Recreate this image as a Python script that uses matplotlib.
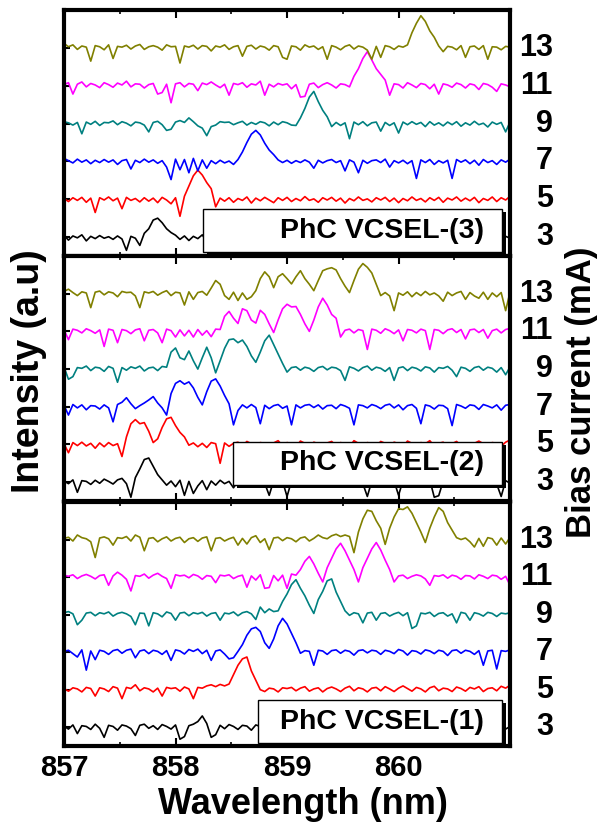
import numpy as np
import matplotlib
matplotlib.use('Agg')
import matplotlib.pyplot as plt
from matplotlib.patches import Rectangle
from matplotlib.ticker import MultipleLocator
from matplotlib.transforms import blended_transform_factory

plt.rcParams['font.family'] = ['Liberation Sans', 'DejaVu Sans']
plt.rcParams['font.weight'] = 'bold'

# wavelength grid of the recorded spectra (nm)
lam0, dlam = 857.0, 0.04

currents = [3, 5, 7, 9, 11, 13]          # bias current (mA), bottom to top
colors = ['black', 'red', 'blue', '#008080', 'magenta', '#808000']
devices = ['PhC VCSEL-(3)', 'PhC VCSEL-(2)', 'PhC VCSEL-(1)']

# spectra in 1/100 a.u. above the baseline of each trace
# --- PhC VCSEL-(3)
v3_03 = [5, -8, 3, -2, 6, -10, 2, -4, 4, -3,
         1, -6, 3, -5, -35, 2, -3, -22, 10, 22,
         45, 50, 38, 22, 12, 5, -6, 3, -9, 2,
         -4, 6, -12, 3, -2, 5, -8, 2, -5, 4,
         -3, 6, -10, 2, -4, 5, -7, 1, -3, 4,
         -6, 3, -2, 5, -9, 2, -4, 6, -3, 1,
         -5, 4, -8, 2, -3, 5, -6, 3, -2, 4,
         -7, 2, -4, 6, -3, 1, -5, 3, -9, 2,
         -3, 5, -6, 2, -4, 4, -8, 3, -2, 5,
         -5, 2, -3, 6, -7, 1, -4, 3, -6, 2, -3]
v3_05 = [2, -6, 4, -3, 5, -8, 3, -35, 4, -2,
         6, -4, 3, -25, 5, -3, 2, -7, 4, -5,
         3, -9, 5, -2, -12, 4, -45, 8, 35, 62,
         77, 64, 44, 28, -20, 3, -5, 4, -8, 2,
         -3, 6, -10, 3, -4, 5, -2, -9, 4, -3,
         5, -6, 2, -4, 7, -3, 1, -8, 4, -2,
         5, -5, 3, -10, 2, -4, 6, -3, 1, -7,
         4, -2, 5, -6, 3, -9, 2, -4, 6, -3,
         2, -7, 4, -3, 5, -8, 3, -2, 6, -5,
         3, -4, 5, -9, 2, -3, 6, -6, 4, -2, 8]
v3_07 = [8, 2, -4, 6, -2, 4, -6, 3, -3, 5,
         -2, 4, -8, 2, 5, -20, 3, -3, 6, -2,
         4, -5, 2, -15, -48, 6, -22, 5, -30, 8,
         -25, 4, -18, 2, -6, 3, -4, 1, -8, 5,
         25, 50, 72, 82, 70, 48, 30, 18, 4, -3,
         3, -5, 2, -3, 4, -2, -18, 3, -4, 2,
         5, -3, 2, -25, 4, -2, -30, 3, -5, 2,
         4, -3, 6, -15, 2, -4, 3, -6, 2, -45,
         4, -3, 5, -8, 2, -4, 3, -45, 5, -2,
         4, -6, 3, -10, 5, -3, 2, -8, 4, -2, 6]
v3_09 = [5, 2, -4, 3, -27, 4, -2, 6, -5, 3,
         2, 7, -3, 5, 1, -6, 4, 2, -4, -22,
         3, 6, -3, -18, -15, 4, 8, 3, 15, 5,
         -6, -12, -32, -8, -4, 5, 3, 4, -3, 2,
         6, -4, 3, -2, 5, 2, -6, 4, -3, 5,
         2, -4, -5, 15, 40, 70, 85, 58, 35, 18,
         -8, 3, -5, 2, -40, 4, -3, 5, -6, 2,
         4, -20, 3, -5, 2, -25, 4, -3, 5, -2,
         3, -8, 5, -4, 2, -6, 4, -3, 5, -7,
         2, -4, 6, -3, 1, -9, 4, -2, 3, -22, 5]
v3_11 = [3, 8, -22, 4, 10, -3, 6, 2, -5, 8,
         3, -4, 7, 2, 12, -3, 5, 4, -6, 3,
         6, -22, -18, 4, -45, 5, 8, -3, 6, 4,
         -13, 7, 3, 10, 2, -5, 4, -25, 6, 3,
         8, -4, 5, 2, 12, -25, 4, -3, 6, 2,
         5, -8, 3, -30, -28, 4, 7, -5, 3, 8,
         2, -6, 5, 3, -3, 25, 45, 72, 90, 68,
         45, 30, 15, -25, 5, 3, -6, 8, 2, -5,
         6, 3, -8, 4, -22, 5, 2, -4, 7, 3,
         -6, 5, 2, -10, 6, 3, -4, -15, 5, 2, -3]
v3_13 = [12, 3, 8, -4, 5, 2, -35, 6, 3, -5,
         8, -28, 4, 2, 7, -3, 5, 9, -4, 3,
         6, 2, -6, 8, 3, 4, -40, 5, 2, 7,
         -3, 6, 4, -8, 5, 2, 8, -4, 3, 6,
         -22, 4, 7, -3, 5, 2, -6, 6, 3, -25,
         -30, 5, 3, -6, 8, 2, 5, -4, 3, -30,
         6, 2, -5, 4, 8, -3, 5, 2, -6, -30,
         4, -25, 6, 3, -4, 5, 2, 8, 40, 65,
         85, 70, 45, 28, 5, -10, 4, 2, -5, 6,
         -25, 3, 5, -4, 6, -30, 3, 2, -5, 4, 2]

# --- PhC VCSEL-(2)
v2_03 = [3, -4, 6, -27, 4, 2, -6, 5, -3, 8,
         2, -5, 6, 10, -4, -40, 12, 35, 60, 64,
         42, 20, 6, -8, 3, -12, 5, -35, 2, -30,
         -10, 4, -20, 3, -8, 5, -4, 2, -15, 3,
         -6, 4, -10, 2, 5, -3, -35, 4, -6, 2,
         -38, 3, -5, 4, -8, 2, 5, -6, 3, -4,
         2, -9, 4, -3, 6, -5, 2, -4, -38, 3,
         -6, 4, 2, -8, 3, -35, 5, -4, 2, -6,
         4, -3, 6, -40, -36, 3, -5, 2, 4, -8,
         3, -4, 5, -2, 6, -9, 2, -5, -38, 4, -3]
v2_05 = [2, -22, 5, -3, 6, -4, 3, -10, 4, -6,
         5, -3, 2, -32, 20, 55, 66, 55, 58, 35,
         5, 15, 45, 68, 72, 50, 32, 20, -2, 4,
         -6, 3, -8, 5, 2, -50, 4, -5, 3, 6,
         -4, 8, 2, -6, 5, 3, -8, 4, 10, -3,
         5, 2, -6, 9, 3, -4, 6, 2, -5, 4,
         8, -3, 5, 2, -6, 10, 3, -4, 5, 2,
         -5, 8, 3, -4, 6, 2, -6, 9, 3, -3,
         5, 2, 10, -4, 3, 6, -5, 2, 8, -3,
         4, -6, 3, 9, 2, -4, 5, 3, -5, 6, 12]
v2_07 = [4, -22, 6, -3, 5, -8, 3, 2, -6, 5,
         -3, -40, 6, 12, 24, 8, -5, 3, 10, 18,
         27, 10, -3, -22, 35, 62, 69, 60, 66, 50,
         25, 5, 40, 68, 74, 55, 30, 8, -48, -10,
         5, -3, 6, -2, -45, 4, -5, 3, 6, -4,
         2, -48, 5, -3, 4, 6, -2, 5, -6, 3,
         4, -5, 6, 2, -4, -48, 5, 3, -3, 6,
         2, -5, 4, 7, -3, 5, -8, 3, 6, -4,
         -45, 5, 2, -6, 4, 3, -5, -50, 6, 2,
         -4, 5, 3, -7, 6, 2, -3, 5, -9, 4, 6]
v2_09 = [6, -27, -20, 4, 2, 8, -4, 5, 3, -6,
         7, 2, -35, 4, -3, 6, 2, 8, -5, 3,
         5, -4, 7, 5, 45, 56, 30, 25, 48, 22,
         0, 30, 58, 30, -10, 22, 55, 78, 80, 70,
         77, 60, 35, 18, 45, 75, 90, 65, 40, 15,
         -8, 4, 6, -3, 5, 2, -6, 4, 7, -2,
         5, 3, -4, -30, 6, 2, -5, 4, 8, -3,
         5, 2, -6, 4, -30, 3, 6, -4, 5, 2,
         -5, 6, 3, -8, 4, 2, 7, -3, -20, 5,
         2, -6, 4, 7, -3, 5, 2, -8, 4, -15, 6]
v2_11 = [5, -22, 6, 3, -4, 7, 2, -5, 4, -40,
         6, 3, -30, 5, 2, -6, 4, 7, -25, 3,
         5, -4, -30, 6, 2, -15, 4, -12, 3, -15,
         5, -10, 2, -14, 6, 5, 40, 53, 35, 21,
         60, 55, 30, 22, 56, 45, 20, -3, 30, 60,
         72, 65, 66, 45, 20, 0, 30, 65, 88, 70,
         45, 35, -15, 3, 6, -4, 5, 2, -48, 6,
         3, -5, 7, 2, -6, 4, -25, 5, 3, -4,
         6, 2, -48, 5, 3, -6, 4, 7, -3, 5,
         -20, 4, 6, -3, 5, -18, 2, 6, -4, 5, 8]
v2_13 = [6, 12, 3, -5, 5, 2, -37, 4, 7, -3,
         5, 2, -8, 6, 3, 4, -6, -37, 5, 2,
         6, -4, 3, 8, -5, 4, 2, -30, 5, -15,
         3, 6, -4, 15, 35, 25, -5, -15, 4, -18,
         2, -15, -8, 8, 40, 58, 45, 16, 45, 53,
         40, 26, 45, 61, 40, 25, 8, 35, 61, 66,
         69, 63, 40, 20, 3, 35, 65, 80, 70, 55,
         25, -5, 3, -6, -45, 2, -4, 5, -8, 3,
         -5, 6, -3, 2, -6, -20, 4, -5, 2, 6,
         -15, 3, -6, -12, 4, -15, 2, -8, 3, -45, 5]

# --- PhC VCSEL-(1)
v1_03 = [3, -5, 6, -17, 4, 2, -6, 8, -3, -27,
         5, 2, -8, 6, 3, -4, -22, 5, 8, -3,
         4, -6, 7, 2, -5, 6, -32, -25, 4, 8,
         15, 30, 10, -27, -20, 5, -4, 7, 2, -6,
         5, 3, -8, 6, 2, -4, 5, -7, 3, 6,
         -3, 5, 2, -9, 4, 6, -2, 3, -6, 5,
         2, -5, 7, 3, -4, 5, 2, -8, 4, 6,
         -3, 5, -6, 2, 4, -7, 3, 5, -2, 6,
         -4, 3, 7, -5, 2, 4, -8, 5, 3, -2,
         6, -4, 2, 5, -6, 3, 7, -3, 4, -5, 2]
v1_05 = [3, -4, 5, 2, -6, 6, 3, -17, 5, 2,
         -5, 8, 4, -24, 6, 3, 13, -3, 5, 2,
         -6, 4, -17, 6, 3, 5, -4, 7, 2, -24,
         6, 4, 10, 13, 8, 14, 10, 15, 40, 65,
         82, 87, 50, 25, 0, -5, 4, 2, -6, 5,
         3, 6, -3, 4, 8, -4, 2, 5, -6, 3,
         7, 2, -5, 4, 9, -3, 5, 2, -6, 4,
         6, -3, 8, 2, -5, 4, 10, 3, -4, 6,
         2, -6, 5, 9, -3, 4, 2, -5, 7, 3,
         -4, 6, 2, 8, -5, 3, 5, -3, 9, 4, 12]
v1_07 = [2, 5, -4, -13, 6, -48, 3, -20, 5, 2,
         -6, 4, 7, -3, 5, 8, -15, 3, 6, -4,
         5, 2, -6, 4, -22, 6, 3, -5, 7, 2,
         8, -4, 5, -22, 3, 6, -5, -18, -15, 2,
         20, 45, 62, 66, 55, 25, 10, 35, 70, 90,
         75, 50, 25, -3, 4, 2, -35, 5, 3, -6,
         4, 6, -3, 5, 2, -8, 4, 6, -2, 5,
         3, -6, 5, 2, -4, 7, 3, -8, 4, 2,
         -5, 6, 3, -4, 5, 2, -9, 4, 6, -3,
         5, 2, -6, 4, -35, 3, 5, -45, 4, 2, 6]
v1_09 = [5, 8, 2, -27, -15, 4, 6, -3, 5, 2,
         7, -4, 3, 6, 2, -5, -27, 4, 3, -30,
         5, 2, -6, 7, 3, -15, 4, 6, -3, 5,
         2, 6, -4, 3, 5, -15, 4, 2, 7, -3,
         5, 8, 2, -13, 20, 5, 15, 8, 10, 35,
         55, 80, 93, 70, 50, 25, 3, 40, 62, 90,
         95, 60, 35, 10, -2, 5, 2, -22, 4, 6,
         -15, 3, 5, -4, 2, 6, -3, 5, -37, -30,
         4, 2, 6, -5, 3, 5, -4, 2, -22, 6,
         3, -15, 5, 2, -4, 6, 3, -5, 4, 2, 5]
v1_11 = [5, 2, 6, -4, 3, 7, 2, -5, 4, 6,
         -22, 3, 13, 5, -6, -37, 4, 2, 8, -3,
         5, 10, 2, -4, -30, 6, 3, 5, -2, 7,
         3, -6, 4, 2, -15, 5, 3, 6, -4, 2,
         5, -27, 3, -8, 6, -30, -28, 4, -10, 5,
         -30, 8, 5, 20, 42, 55, 35, 10, -13, 25,
         50, 75, 90, 70, 45, 20, -13, 25, 50, 75,
         92, 72, 45, 20, -13, 3, 5, -4, 2, 6,
         3, -5, -22, 4, 2, 6, -3, 5, 2, -6,
         4, 3, -5, 6, 2, -4, 5, 3, -6, 2, -22]
v1_13 = [3, 6, -4, 12, 5, 2, -6, -48, 4, 7,
         2, -15, 5, 3, 8, -4, 12, 6, -30, 3,
         5, -6, 2, 7, -4, 3, 6, -8, 2, 5,
         -5, 4, 7, -30, 3, 5, -4, 2, 6, -15,
         3, -12, 5, 10, -8, 2, -27, 4, 6, -3,
         5, 2, -6, 4, 7, -4, 3, 12, 5, 2,
         10, 14, 8, 12, 8, -35, 20, 55, 78, 75,
         50, 30, -13, 30, 60, 82, 80, 87, 70, 45,
         20, -8, 30, 60, 85, 75, 45, 25, 5, 0,
         4, -6, -20, 3, -18, 5, 2, -15, 4, -12, 6]

panels = [[v3_03, v3_05, v3_07, v3_09, v3_11, v3_13],
          [v2_03, v2_05, v2_07, v2_09, v2_11, v2_13],
          [v1_03, v1_05, v1_07, v1_09, v1_11, v1_13]]

fig = plt.figure(figsize=(5.98, 8.24), dpi=100)

# axes rectangles, top to bottom
rects = [[0.107, 0.6893, 0.746, 0.2985],
         [0.107, 0.3920, 0.746, 0.2973],
         [0.107, 0.0947, 0.746, 0.2961]]
# white label boxes (axes fraction): x0, y0, y1 and text height
boxes = [(0.312, 0.016, 0.191, 0.102),
         (0.379, 0.065, 0.241, 0.155),
         (0.435, 0.012, 0.189, 0.098)]

for p, (traces, rect, box, name) in enumerate(zip(panels, rects, boxes, devices)):
    ax = fig.add_axes(rect)
    for k, (spec, col) in enumerate(zip(traces, colors)):
        wl = lam0 + dlam * np.arange(len(spec))
        ax.plot(wl, np.array(spec) / 100.0 + k, color=col, lw=1.2)

    ax.set_xlim(857, 861.0)
    ax.set_ylim(-0.5, 6.0)
    ax.set_xticks([857, 858, 859, 860])
    ax.xaxis.set_minor_locator(MultipleLocator(0.5))
    ax.set_yticks(range(6))
    ax.set_yticklabels([])
    ax.tick_params(axis='x', which='major', direction='in', top=True,
                   length=6, width=1.5, pad=6, labelsize=21)
    ax.tick_params(axis='x', which='minor', direction='in', top=True,
                   length=3, width=1.2)
    ax.tick_params(axis='y', direction='in', length=4, width=1.5)
    for sp in ax.spines.values():
        sp.set_linewidth(3)
    if p < 2:
        ax.set_xticklabels([])
    else:
        for lab in ax.get_xticklabels():
            lab.set_fontweight('bold')

    # bias current next to each trace
    tr = blended_transform_factory(ax.transAxes, ax.transData)
    for k, cur in enumerate(currents):
        ax.text(1.096, k, str(cur), transform=tr, ha='right', va='center',
                fontsize=22, fontweight='bold', clip_on=False)

    # device label box with a drop shadow
    x0, y0, y1, ty = box
    w = 0.982 - x0
    ax.add_patch(Rectangle((x0 + 0.009, y0 - 0.012), w, y1 - y0,
                           transform=ax.transAxes, fc='black', ec='none',
                           zorder=5))
    ax.add_patch(Rectangle((x0, y0), w, y1 - y0, transform=ax.transAxes,
                           fc='white', ec='black', lw=1.0, zorder=6))
    ax.text(0.942, ty, name, transform=ax.transAxes, ha='right', va='center',
            fontsize=20.5, fontweight='bold', zorder=7)

fig.text(0.049, 0.549, 'Intensity (a.u)', rotation=90, ha='center',
         va='center', fontsize=27, fontweight='bold')
fig.text(0.973, 0.524, 'Bias current (mA)', rotation=90, ha='center',
         va='center', fontsize=25, fontweight='bold')
fig.text(0.507, 0.024, 'Wavelength (nm)', ha='center', va='center',
         fontsize=26, fontweight='bold')

fig.savefig('out.png', dpi=100)
